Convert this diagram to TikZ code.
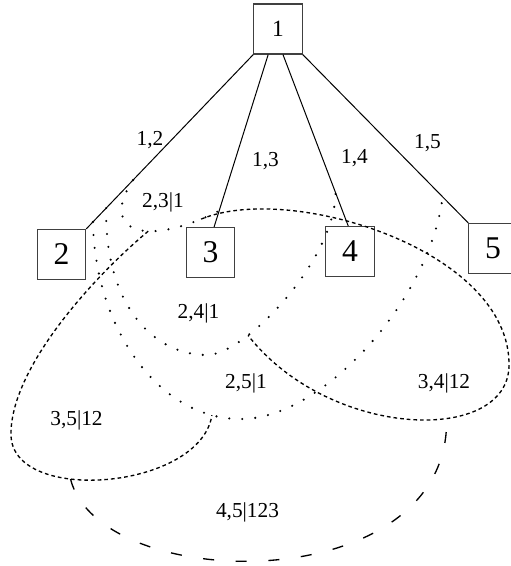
\documentclass[tikz,border=0pt]{standalone}
\usepackage{fontspec}
\setmainfont{Liberation Serif}

\begin{document}
\begin{tikzpicture}[
    x=0.6pt, y=-0.6pt, % pixel grid, y down
    box/.style={
        rectangle,
        draw=black!75,
        line width=0.7pt,
        minimum width=29pt,
        minimum height=30pt,
        inner sep=0pt,
        font=\fontsize{19}{21}\selectfont
    },
    edge/.style={
        draw,
        line width=0.6pt
    },
    lbl/.style={
        inner sep=0pt,
        font=\fontsize{12.8}{14}\selectfont
    },
    tree2/.style={
        draw,
        line width=1.4pt,
        line cap=round,
        dash pattern=on 0pt off 7.8pt
    },
    tree3/.style={
        draw,
        line width=0.8pt,
        dash pattern=on 2.2pt off 1.8pt
    },
    tree4/.style={
        draw,
        line width=0.8pt,
        dash pattern=on 6.6pt off 13pt
    }
]
    \useasboundingbox (0,0) rectangle (510,566);

    % --- Nodes ---
    \node [box, font=\fontsize{14}{16}\selectfont] (n1) at (278,29) {1};
    \node [box] (n2) at (61.5,254.5) {2};
    \node [box] (n3) at (210.5,252.5) {3};
    \node [box] (n4) at (350,251.5) {4};
    \node [box] (n5) at (493,248.5) {5};

    % --- Tree 1 ---
    \path [edge] (n1.south west) -- coordinate[pos=0.72] (a12) coordinate[pos=0.88] (b12)
        coordinate[pos=0.96] (c12) (n2.north east);
    \path [edge] (n1.249) -- coordinate[pos=0.907] (a13) (n3.82);
    \path [edge] (n1.281) -- coordinate[pos=0.806] (b14) (n4.94);
    \path [edge] (n1.south east) -- coordinate[pos=0.845] (c15) (n5.north west);

    % --- Tree 2 (dotted) ---
    \path [tree2] (a12) .. controls +(-33,49) and +(-78,39) ..
        coordinate[pos=0.62] (a35) coordinate[pos=0.92] (a34) (a13);
    \path [tree2] (b12) .. controls (104,300) and (150,355) .. (207,355)
        .. controls (245,355) and (335,260) .. coordinate[pos=0.28] (b34) (b14);
    \path [tree2] (c12) .. controls (95,330) and (160,419) .. coordinate[pos=0.88] (c35) (240,419)
        .. controls (322,420) and (430,300) .. (c15);

    % --- Tree 3 (dashed) ---
    \path [tree3] (a34) .. controls (290,182) and (510,250) .. (509,365)
        .. controls (509,445) and (330,440) .. coordinate[pos=0.38] (d45) (b34);
    \path [tree3] (a35) .. controls (90,280) and (10,370) .. (11,435)
        .. controls (12,505) and (200,490) .. coordinate[pos=0.37] (e45) (c35);

    % --- Tree 4 ---
    \path [tree4] (e45) .. controls (100,595) and (450,600) .. (d45);

    % --- Labels ---
    \node [lbl] (l12) at (150,140) {1,2};
    \node [lbl] (l13) at (265.5,161) {1,3};
    \node [lbl] (l14) at (354.5,158) {1,4};
    \node [lbl] (l15) at (427.5,143) {1,5};
    \node [lbl] (l23) at (163,202) {2,3|1};
    \node [lbl] (l24) at (198.5,313) {2,4|1};
    \node [lbl] (l25) at (246,383) {2,5|1};
    \node [lbl] (l34) at (444,383) {3,4|12};
    \node [lbl] (l35) at (76.5,420) {3,5|12};
    \node [lbl] (l45) at (247.5,512) {4,5|123};

\end{tikzpicture}
\end{document}
